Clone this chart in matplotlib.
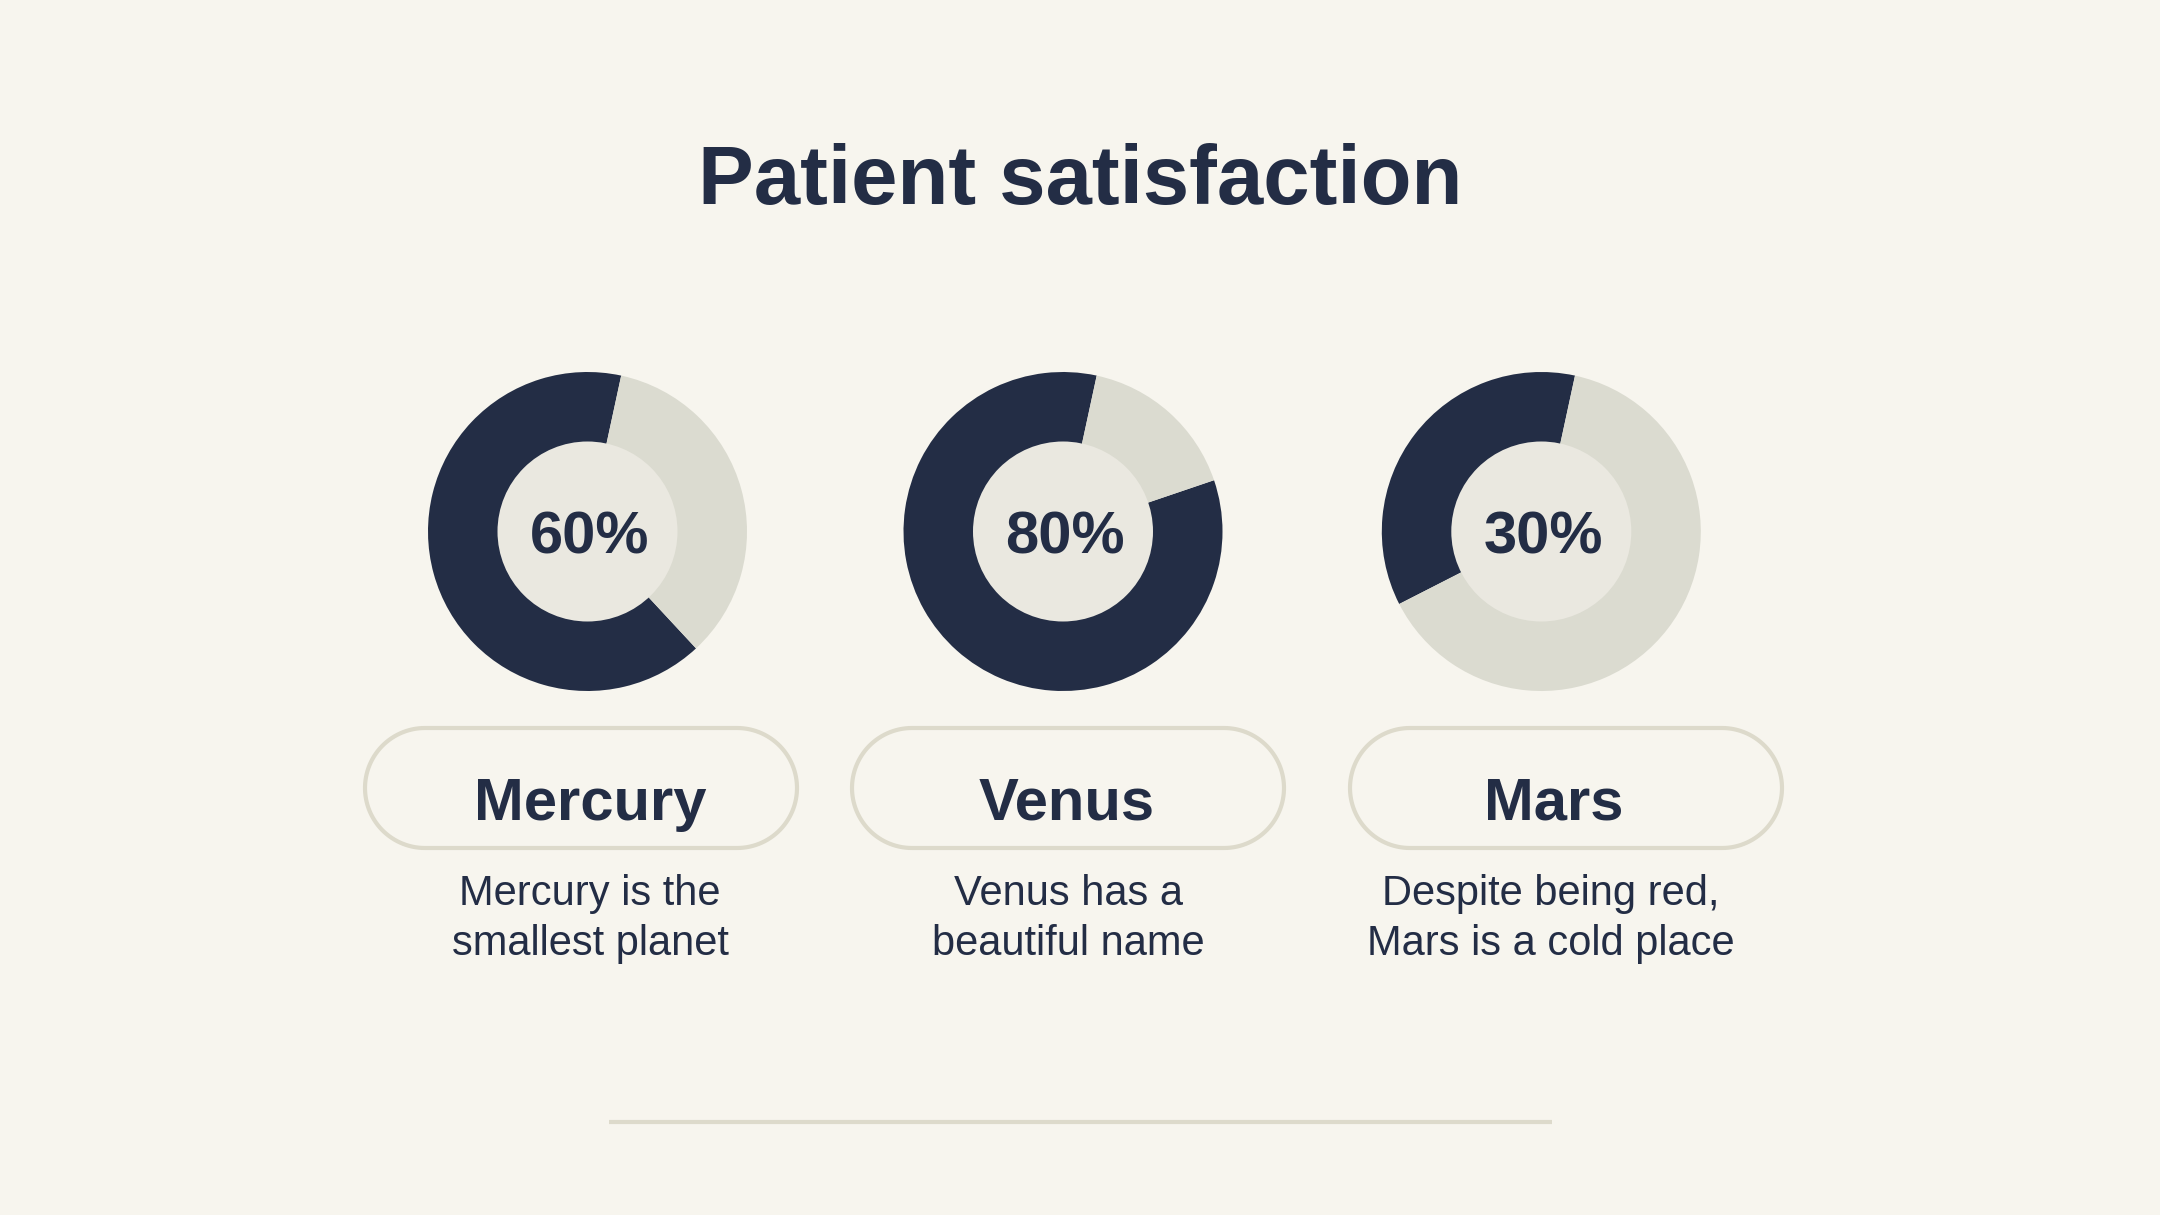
import numpy as np
import matplotlib.pyplot as plt
from matplotlib.patches import Circle, Polygon

plt.rcParams["font.family"] = ["Liberation Sans", "DejaVu Sans"]

# data
title = "Patient satisfaction"
planets = ["Mercury", "Venus", "Mars"]
labels = ["60%", "80%", "30%"]
# dark / light share of each ring, as drawn
dark_share = [65.3, 83.6, 35.9]
light_share = [34.7, 16.4, 64.1]
descs = ["Mercury is the\nsmallest planet",
         "Venus has a\nbeautiful name",
         "Despite being red,\nMars is a cold place"]

# layout (pixels, image coords, y down)
W, H = 2160, 1215
ring_x = [587.5, 1063, 1541.3]
ring_y = 531.5
r_out, r_in = 159.5, 90
pill_x = [581, 1068, 1566]
pill_w, pill_h, pill_y = 432, 120, 788
name_x = [590, 1067, 1554]
desc_x = [590, 1068, 1551]

navy = "#232d45"
light = "#dbdbd0"
inner = "#eae8e0"
bg = "#f7f5ee"
edge = "#dddacb"

fig = plt.figure(figsize=(21.6, 12.15), dpi=100, facecolor=bg)
ax = fig.add_axes([0, 0, 1, 1])
ax.set_facecolor(bg)

def Y(y):
    return H - y

def pill(cx, cy, w, h):
    # stadium outline: two half circles joined by straight sides
    r = h / 2
    t = np.linspace(-np.pi / 2, np.pi / 2, 60)
    right = np.column_stack([cx + w / 2 - r + r * np.cos(t), cy + r * np.sin(t)])
    left = np.column_stack([cx - w / 2 + r - r * np.cos(t), cy - r * np.sin(t)])
    return Polygon(np.vstack([right, left]), closed=True, facecolor=bg,
                   edgecolor=edge, lw=3, zorder=2)

for i in range(3):
    ax.pie([dark_share[i], light_share[i]], colors=[navy, light],
           center=(ring_x[i], Y(ring_y)), radius=r_out, startangle=77.8,
           counterclock=True, wedgeprops=dict(width=r_out - r_in + 2, linewidth=0))
    ax.add_patch(Circle((ring_x[i], Y(ring_y)), r_in, color=inner, lw=0, zorder=3))
    ax.text(ring_x[i] + 2, Y(553), labels[i], ha="center", va="baseline",
            fontsize=43, fontweight="bold", color=navy, zorder=4)

    ax.add_patch(pill(pill_x[i], Y(pill_y), pill_w, pill_h))
    ax.text(name_x[i], Y(820), planets[i], ha="center", va="baseline",
            fontsize=43, fontweight="bold", color=navy, zorder=4)

    line1, line2 = descs[i].split("\n")
    ax.text(desc_x[i], Y(905), line1, ha="center", va="baseline",
            fontsize=30, color=navy)
    ax.text(desc_x[i], Y(955), line2, ha="center", va="baseline",
            fontsize=30, color=navy)

ax.text(1080, Y(204), title, ha="center", va="baseline",
        fontsize=60, fontweight="bold", color=navy)

ax.plot([609, 1552], [Y(1122), Y(1122)], color=edge, lw=3, solid_capstyle="butt")

ax.set_xlim(0, W)
ax.set_ylim(0, H)
ax.set_aspect("auto")
ax.axis("off")

fig.savefig("out.png", dpi=100, facecolor=bg)
